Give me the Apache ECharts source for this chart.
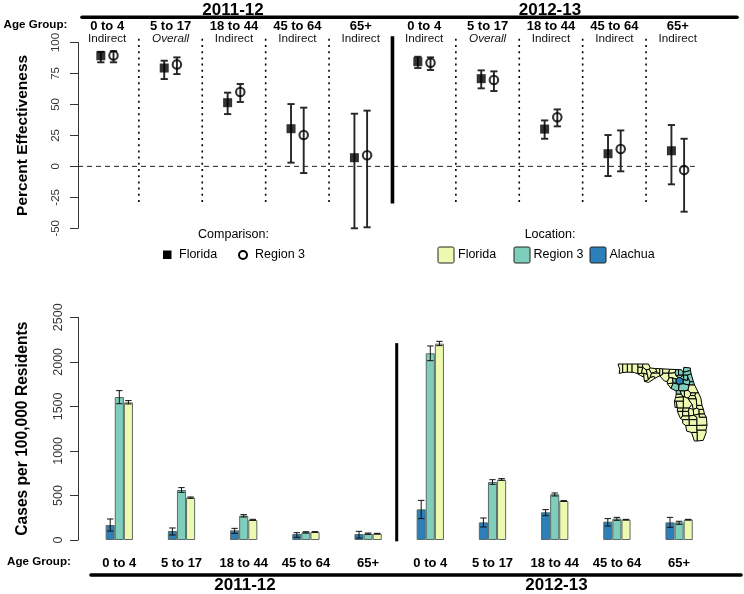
<!DOCTYPE html>
<html><head><meta charset="utf-8">
<style>html,body{margin:0;padding:0;background:#fff}#c{width:744px;height:594px}</style>
<script src="https://cdn.jsdelivr.net/npm/echarts@6/dist/echarts.min.js"></script>
</head><body><div id="c"></div>
<script>
const ageGroups = ['0 to 4','5 to 17','18 to 44','45 to 64','65+','0 to 4','5 to 17','18 to 44','45 to 64','65+'];
const effectKinds = ['Indirect','Overall','Indirect','Indirect','Indirect','Indirect','Overall','Indirect','Indirect','Indirect'];

const effFlorida     = [89.3,79.4,51.4,30.4,7,    84.5,70.8,30.1,10.2,12.6];
const effFloridaLow  = [84,70.5,42.2,3,-50,       79.4,63,22.3,-7.8,-14.5];
const effFloridaHigh = [92.5,85.3,59.5,50.3,42.5, 88.5,77.5,37.1,25.3,33.4];
const effRegion      = [89.6,82.3,60,25.3,9,      83.7,69.7,39.6,14,-3];
const effRegionLow   = [84,74.5,52,-5.4,-49.2,    77.8,60.8,32.3,-4,-36.6];
const effRegionHigh  = [93,88,66.5,47.4,45,       88,76.7,46,29,22.3];

const casesAlachua     = [168,101,108,67,67,   344,198,311,206,198];
const casesAlachuaLow  = [100,56,75,30,22,     240,146,273,157,142];
const casesAlachuaHigh = [236,135,131,82,97,   445,247,341,240,254];
const casesRegion      = [1605,561,273,86,71,  2096,651,513,240,198];
const casesRegionLow   = [1530,535,258,78,64,  2013,625,494,221,176];
const casesRegionHigh  = [1677,588,285,93,78,  2178,677,528,254,210];
const casesFlorida     = [1545,475,225,90,71,  2204,677,438,228,228];
const casesFloridaLow  = [1527,468,221,86,67,  2182,670,434,225,225];
const casesFloridaHigh = [1565,483,232,94,75,  2230,689,442,232,232];

const dottedAt = [0.5,1.5,2.5,3.5,5.5,6.5,7.5,8.5];
const seasonDividerTop = 4.5;
const seasonDividerBottom = 4.46;

const COL_A = '#2c7fb8', COL_R = '#7fcdbb', COL_F = '#edf8b1';
const FONT = '"Liberation Sans", Arial, Helvetica, sans-serif';

const regionCounties = ['Baker','Bradford','Clay','Duval','Nassau','StJohns','Putnam','Flagler','Levy','Marion','Union','Gilchrist','Columbia','Citrus'];
const centerCounties = ['Alachua'];
const counties = {
Escambia:[[-87.6,31],[-87.2,31],[-87.2,30.35],[-87.5,30.28],[-87.45,30.6]],
SantaRosa:[[-87.2,31],[-86.8,31],[-86.8,30.38],[-87.2,30.35]],
Okaloosa:[[-86.8,31],[-86.4,31],[-86.4,30.37],[-86.8,30.38]],
Walton:[[-86.4,31],[-85.9,31],[-85.9,30.25],[-86.2,30.35],[-86.4,30.37]],
Holmes:[[-85.9,31],[-85.5,31],[-85.5,30.75],[-85.9,30.75]],
Washington:[[-85.9,30.75],[-85.5,30.75],[-85.6,30.3],[-85.9,30.25]],
Bay:[[-85.9,30.25],[-85.6,30.3],[-85.4,30.3],[-85.4,30],[-85.7,30.13]],
Jackson:[[-85.5,31],[-85,31],[-84.86,30.7],[-84.95,30.6],[-85.2,30.55],[-85.5,30.75]],
Calhoun:[[-85.5,30.75],[-85.2,30.55],[-85.1,30.2],[-85.4,30.3],[-85.6,30.3]],
Gulf:[[-85.4,30.3],[-85.1,30.2],[-85,29.8],[-85.35,29.68],[-85.4,30]],
Liberty:[[-85.2,30.55],[-84.95,30.6],[-84.75,30.3],[-84.85,30],[-85,29.8],[-85.1,30.2]],
Franklin:[[-85,29.8],[-84.85,30],[-84.55,30.05],[-84.4,29.95],[-85,29.6],[-85.35,29.68]],
Gadsden:[[-84.86,30.7],[-84.4,30.65],[-84.3,30.45],[-84.75,30.3],[-84.95,30.6]],
Leon:[[-84.4,30.65],[-84.05,30.65],[-84.05,30.3],[-84.3,30.3],[-84.3,30.45]],
Wakulla:[[-84.75,30.3],[-84.3,30.3],[-84.05,30.3],[-84.05,30.1],[-84.4,29.95],[-84.55,30.05],[-84.85,30]],
Jefferson:[[-84.05,30.65],[-83.8,30.63],[-83.8,30.2],[-84.05,30.1]],
Madison:[[-83.8,30.63],[-83.2,30.6],[-83.3,30.3],[-83.8,30.3]],
Taylor:[[-83.8,30.3],[-83.3,30.3],[-83.25,29.95],[-83.4,29.67],[-83.65,29.7],[-84.05,30.1],[-83.8,30.2]],
Hamilton:[[-83.2,30.6],[-82.65,30.58],[-82.75,30.35],[-83,30.3],[-83.3,30.3]],
Suwannee:[[-83.3,30.3],[-83,30.3],[-82.75,30.35],[-82.65,30.1],[-82.45,29.97],[-82.65,29.85],[-82.98,29.95],[-83.25,29.95]],
Lafayette:[[-83.25,29.95],[-82.98,29.95],[-82.9,29.55],[-83.4,29.5],[-83.4,29.67]],
Dixie:[[-83.4,29.5],[-82.9,29.55],[-83.1,29.15]],
Gilchrist:[[-82.98,29.95],[-82.65,29.85],[-82.65,29.55],[-82.9,29.55]],
Levy:[[-82.9,29.55],[-82.4,29.45],[-82.45,29],[-82.65,28.95],[-83.1,29.15]],
Columbia:[[-82.65,30.58],[-82.45,30.57],[-82.45,30.15],[-82.65,30.1],[-82.75,30.35]],
Baker:[[-82.45,30.57],[-82.2,30.57],[-82.05,30.36],[-82.05,30.15],[-82.45,30.15]],
Union:[[-82.65,30.1],[-82.45,30.15],[-82.05,30.15],[-82.3,29.95],[-82.45,29.97]],
Bradford:[[-82.3,29.95],[-82.05,30.15],[-82,29.9],[-82.05,29.8]],
Alachua:[[-82.65,29.85],[-82.45,29.97],[-82.3,29.95],[-82.05,29.8],[-82.05,29.5],[-82.4,29.45],[-82.65,29.55]],
Nassau:[[-82.05,30.36],[-82,30.75],[-81.45,30.7],[-81.43,30.5],[-81.9,30.4]],
Duval:[[-82.05,30.36],[-81.9,30.4],[-81.43,30.5],[-81.38,30.25],[-81.7,30.15],[-82.05,30.15]],
Clay:[[-82.05,30.15],[-81.7,30.15],[-81.65,29.95],[-81.7,29.75],[-82.05,29.8],[-82,29.9]],
StJohns:[[-81.7,30.15],[-81.38,30.25],[-81.18,29.65],[-81.5,29.65],[-81.65,29.95]],
Putnam:[[-82.05,29.8],[-81.7,29.75],[-81.65,29.95],[-81.5,29.65],[-81.55,29.4],[-82.05,29.5]],
Flagler:[[-81.5,29.65],[-81.18,29.65],[-81.08,29.4],[-81.55,29.4]],
Marion:[[-82.4,29.45],[-82.05,29.5],[-81.55,29.4],[-81.65,29],[-81.95,28.95],[-82.3,28.95],[-82.45,29]],
Volusia:[[-81.55,29.4],[-81.08,29.4],[-80.75,28.8],[-81,28.8],[-81.4,28.8],[-81.65,29]],
Citrus:[[-82.65,28.95],[-82.45,29],[-82.3,28.95],[-82.2,28.7],[-82.65,28.7]],
Hernando:[[-82.65,28.7],[-82.2,28.7],[-82.05,28.5],[-82.7,28.45]],
Sumter:[[-82.3,28.95],[-81.95,28.95],[-81.95,28.5],[-82.05,28.5],[-82.2,28.7]],
Lake:[[-81.95,28.95],[-81.65,29],[-81.4,28.8],[-81.45,28.6],[-81.65,28.4],[-81.95,28.5]],
Seminole:[[-81.4,28.8],[-81,28.8],[-81.05,28.6],[-81.45,28.6]],
Orange:[[-81.65,28.4],[-81.45,28.6],[-81.05,28.6],[-80.95,28.35],[-81.65,28.35]],
Brevard:[[-80.75,28.8],[-81,28.8],[-81.05,28.6],[-80.95,28.35],[-80.9,27.85],[-80.45,27.85],[-80.55,28.4]],
Osceola:[[-81.65,28.35],[-80.95,28.35],[-80.9,27.85],[-80.9,27.65],[-81.2,27.55],[-81.3,27.95],[-81.45,28.1]],
Polk:[[-82.05,28.17],[-82.05,28.5],[-81.95,28.5],[-81.65,28.4],[-81.65,28.35],[-81.45,28.1],[-81.3,27.95],[-81.55,27.65],[-82.05,27.65]],
Pasco:[[-82.7,28.45],[-82.05,28.5],[-82.05,28.17],[-82.8,28.17]],
Pinellas:[[-82.8,28.17],[-82.65,28.17],[-82.55,27.7],[-82.75,27.7]],
Hillsborough:[[-82.65,28.17],[-82.05,28.17],[-82.05,27.65],[-82.55,27.65],[-82.55,27.7]],
Manatee:[[-82.55,27.65],[-82.05,27.65],[-82.1,27.4],[-82.55,27.4]],
Sarasota:[[-82.55,27.4],[-82.1,27.4],[-82.1,27.05],[-82.28,26.85]],
Hardee:[[-82.05,27.65],[-81.55,27.65],[-81.6,27.4],[-82.1,27.4]],
DeSoto:[[-82.1,27.4],[-81.6,27.4],[-81.55,27.05],[-82.1,27.05]],
Charlotte:[[-82.28,26.85],[-82.1,27.05],[-81.55,27.05],[-81.55,26.77],[-82.1,26.77]],
Highlands:[[-81.55,27.65],[-81.2,27.55],[-81.15,27.1],[-81.55,27.05],[-81.6,27.4]],
Okeechobee:[[-81.2,27.55],[-80.9,27.65],[-80.7,27.55],[-80.7,27.2],[-81.15,27.1]],
IndianRiver:[[-80.9,27.85],[-80.45,27.85],[-80.33,27.55],[-80.7,27.55],[-80.9,27.65]],
StLucie:[[-80.7,27.55],[-80.33,27.55],[-80.25,27.2],[-80.7,27.2]],
Martin:[[-80.7,27.2],[-80.25,27.2],[-80.08,26.95],[-80.7,26.95]],
PalmBeach:[[-81.15,27.1],[-80.7,27.2],[-80.7,26.95],[-80.08,26.95],[-80.03,26.35],[-80.9,26.33],[-80.9,26.95]],
Glades:[[-81.55,27.05],[-81.15,27.1],[-80.9,26.95],[-80.9,26.77],[-81.55,26.77]],
Hendry:[[-81.55,26.77],[-80.9,26.77],[-80.9,26.33],[-81.55,26.33]],
Lee:[[-82.1,26.77],[-81.55,26.77],[-81.55,26.33],[-81.85,26.33],[-82.1,26.5]],
Collier:[[-81.85,26.33],[-81.55,26.33],[-80.9,26.33],[-80.87,25.8],[-81.35,25.8],[-81.75,25.9]],
Broward:[[-80.9,26.33],[-80.03,26.35],[-80.12,25.97],[-80.88,25.97]],
MiamiDade:[[-80.88,25.97],[-80.12,25.97],[-80.1,25.8],[-80.35,25.2],[-80.87,25.15],[-80.87,25.8]],
Monroe:[[-81.35,25.8],[-80.87,25.8],[-80.87,25.15],[-81.1,25.15]]
};

echarts.registerMap('FL',{type:'FeatureCollection',features:Object.keys(counties).map(n=>({
  type:'Feature',properties:{name:n},
  geometry:{type:'Polygon',coordinates:[counties[n].concat([counties[n][0]])]}
}))});

const chart = echarts.init(document.getElementById('c'),null,{renderer:'canvas'});

function whisker(api,x,lo,hi,dx,capHalf,color,lw){
  const a=api.coord([x,lo]), b=api.coord([x,hi]);
  const style={stroke:color,lineWidth:lw,fill:null};
  const X=a[0]+dx;
  return [
    {type:'line',shape:{x1:X,y1:a[1],x2:X,y2:b[1]},style},
    {type:'line',shape:{x1:X-capHalf,y1:a[1],x2:X+capHalf,y2:a[1]},style},
    {type:'line',shape:{x1:X-capHalf,y1:b[1],x2:X+capHalf,y2:b[1]},style}
  ];
}
const topOffset = 0.1;
function effErr(name,lows,highs,off){
  return {name,type:'custom',xAxisIndex:0,yAxisIndex:0,silent:true,z:3,
    data:lows.map((l,i)=>[i+off,l,highs[i]]),
    encode:{x:0,y:[1,2]},
    renderItem:(p,api)=>({type:'group',children:whisker(api,api.value(0),api.value(1),api.value(2),0,3.6,'#262626',1.9)})};
}
function casesErr(name,lows,highs,off){
  return {name,type:'custom',xAxisIndex:1,yAxisIndex:1,silent:true,z:5,
    data:lows.map((l,i)=>[i,l,highs[i]]),
    encode:{x:0,y:[1,2]},
    renderItem:(p,api)=>({type:'group',children:whisker(api,api.value(0),api.value(1),api.value(2),off,3.2,'#111',1)})};
}
function bar(name,vals,col){
  return {name,type:'bar',xAxisIndex:1,yAxisIndex:1,data:vals,barWidth:9.1,barGap:'0%',silent:true,
    itemStyle:{color:col,borderColor:'#5a6a66',borderWidth:1}};
}
function vline(name,xs,top,bottom,lw,dash,xAxisIndex,yAxisIndex){
  return {name,type:'custom',xAxisIndex,yAxisIndex,silent:true,z:2,
    data:xs.map(x=>[x,top,bottom]),encode:{x:0,y:[1,2]},
    renderItem:(p,api)=>{
      const a=api.coord([api.value(0),api.value(1)]),b=api.coord([api.value(0),api.value(2)]);
      return {type:'line',shape:{x1:a[0],y1:a[1],x2:b[0],y2:b[1]},style:{stroke:'#000',lineWidth:lw,lineDash:dash,fill:null}};
    }};
}
function headerSeries(){
  return {name:'headers',type:'custom',xAxisIndex:0,yAxisIndex:0,silent:true,z:4,
    data:ageGroups.map((a,i)=>[i,0]),encode:{x:0,y:1},
    renderItem:(p,api)=>{
      const i=api.value(0), x=api.coord([i,0])[0];
      const kind=effectKinds[i];
      return {type:'group',children:[
        {type:'text',x,y:26.5,style:{text:ageGroups[i],font:'bold 13px '+FONT,fill:'#000',align:'center',verticalAlign:'middle'}},
        {type:'text',x,y:38.8,style:{text:kind,font:(kind==='Overall'?'italic ':'')+'11.7px '+FONT,fill:'#111',align:'center',verticalAlign:'middle'}}
      ]};
    }};
}
const txt=(text,x,y,size,bold,align)=>({type:'text',x,y,silent:true,style:{text,font:(bold?'bold ':'')+size+'px '+FONT,fill:'#000',align:align||'center',verticalAlign:'middle'}});
const bar2=(x1,x2,y,w)=>({type:'line',silent:true,shape:{x1,y1:y,x2,y2:y},style:{stroke:'#000',lineWidth:w,lineCap:'round'}});
const swatch=(x,col)=>({type:'rect',silent:true,shape:{x,y:247,width:16,height:16,r:1.5},style:{fill:col,stroke:'#222',lineWidth:1}});

chart.setOption({
  animation:false,backgroundColor:'#fff',
  textStyle:{fontFamily:FONT},
  grid:[
    {left:78,top:42.5,width:634,height:185.8},
    {left:88.2,top:317.3,width:622,height:222.7}
  ],
  xAxis:[
    {type:'value',gridIndex:0,min:-0.46,max:9.54,show:false},
    {type:'category',gridIndex:1,data:ageGroups,
      axisLine:{show:false},axisTick:{show:false},
      axisLabel:{interval:0,margin:17,color:'#000',fontSize:13,fontWeight:'bold',fontFamily:FONT,hideOverlap:false}},
    {type:'value',gridIndex:1,min:-0.5,max:9.5,show:false}
  ],
  yAxis:[
    {type:'value',gridIndex:0,min:-50,max:100,interval:25,
      name:'Percent Effectiveness',nameLocation:'middle',nameRotate:90,nameGap:47,
      nameTextStyle:{fontSize:15.5,fontWeight:'bold',color:'#000',fontFamily:FONT},
      axisLine:{show:true,onZero:false,lineStyle:{color:'#333',width:1}},
      axisTick:{show:true,length:8,lineStyle:{color:'#333',width:1}},
      splitLine:{show:false},
      axisLabel:{rotate:90,margin:16,fontSize:11.5,color:'#333',fontFamily:FONT,formatter:v=>String(v)}},
    {type:'value',gridIndex:1,min:0,max:2500,interval:500,offset:10.2,
      name:'Cases per 100,000 Residents',nameLocation:'middle',nameRotate:90,nameGap:47,
      nameTextStyle:{fontSize:15.6,fontWeight:'bold',color:'#000',fontFamily:FONT},
      axisLine:{show:true,onZero:false,lineStyle:{color:'#333',width:1}},
      axisTick:{show:true,length:8,lineStyle:{color:'#333',width:1}},
      splitLine:{show:false},
      axisLabel:{rotate:90,margin:13,fontSize:12.5,color:'#333',fontFamily:FONT,formatter:v=>String(v)}}
  ],
  geo:{map:'FL',roam:false,silent:true,left:618,top:364,width:89,height:77,aspectScale:0.893,
    label:{show:false},
    itemStyle:{areaColor:COL_F,borderColor:'#000',borderWidth:1},
    regions:[
      ...regionCounties.map(name=>({name,itemStyle:{areaColor:COL_R}})),
      ...centerCounties.map(name=>({name,itemStyle:{areaColor:COL_A}}))
    ]},
  series:[
    {name:'zero',type:'line',xAxisIndex:0,yAxisIndex:0,silent:true,symbol:'none',z:1,
      data:[[-0.46,0],[9.27,0]],lineStyle:{color:'#222',width:1,type:[5,4]}},
    vline('separators',dottedAt,103,-30,1.6,[2,4.2],0,0),
    vline('dividerTop',[seasonDividerTop],105,-30,3.6,null,0,0),
    vline('dividerBottom',[seasonDividerBottom],2210,-15,3,null,2,1),
    headerSeries(),
    effErr('errF',effFloridaLow,effFloridaHigh,-topOffset),
    effErr('errR',effRegionLow,effRegionHigh,topOffset),
    {name:'Florida',type:'scatter',xAxisIndex:0,yAxisIndex:0,silent:true,z:4,symbol:'rect',symbolSize:9,
      data:effFlorida.map((v,i)=>[i-topOffset,v]),itemStyle:{color:'#000'}},
    {name:'Region 3',type:'scatter',xAxisIndex:0,yAxisIndex:0,silent:true,z:4,symbol:'circle',symbolSize:8.5,
      data:effRegion.map((v,i)=>[i+topOffset,v]),itemStyle:{color:'rgba(0,0,0,0)',borderColor:'#000',borderWidth:2.1}},
    bar('Alachua',casesAlachua,COL_A),
    bar('Region 3 cases',casesRegion,COL_R),
    bar('Florida cases',casesFlorida,COL_F),
    casesErr('errA',casesAlachuaLow,casesAlachuaHigh,-9.1),
    casesErr('errRc',casesRegionLow,casesRegionHigh,0),
    casesErr('errFc',casesFloridaLow,casesFloridaHigh,9.1)
  ],
  graphic:{elements:[
    bar2(82,737,17.3,3.6),
    txt('2011-12',233,10,17,true),
    txt('2012-13',550,10,17,true),
    txt('Age Group:',35.5,24.5,11.6,true),
    txt('Comparison:',233.5,234.5,12.5),
    {type:'rect',silent:true,shape:{x:163,y:250.5,width:8.5,height:8.5},style:{fill:'#000'}},
    txt('Florida',179,255,12.5,false,'left'),
    {type:'circle',silent:true,shape:{cx:243,cy:255,r:4},style:{fill:'#fff',stroke:'#000',lineWidth:2}},
    txt('Region 3',255,255,12.5,false,'left'),
    txt('Location:',550,234.5,12.5),
    swatch(438,COL_F),txt('Florida',458,255,12.5,false,'left'),
    swatch(514,COL_R),txt('Region 3',533.5,255,12.5,false,'left'),
    swatch(590,COL_A),txt('Alachua',609.5,255,12.5,false,'left'),
    txt('Age Group:',39,562,11.6,true),
    bar2(91,741,575,3.6),
    txt('2011-12',245,585.5,17,true),
    txt('2012-13',556.5,585.5,17,true)
  ]}
});
</script></body></html>
